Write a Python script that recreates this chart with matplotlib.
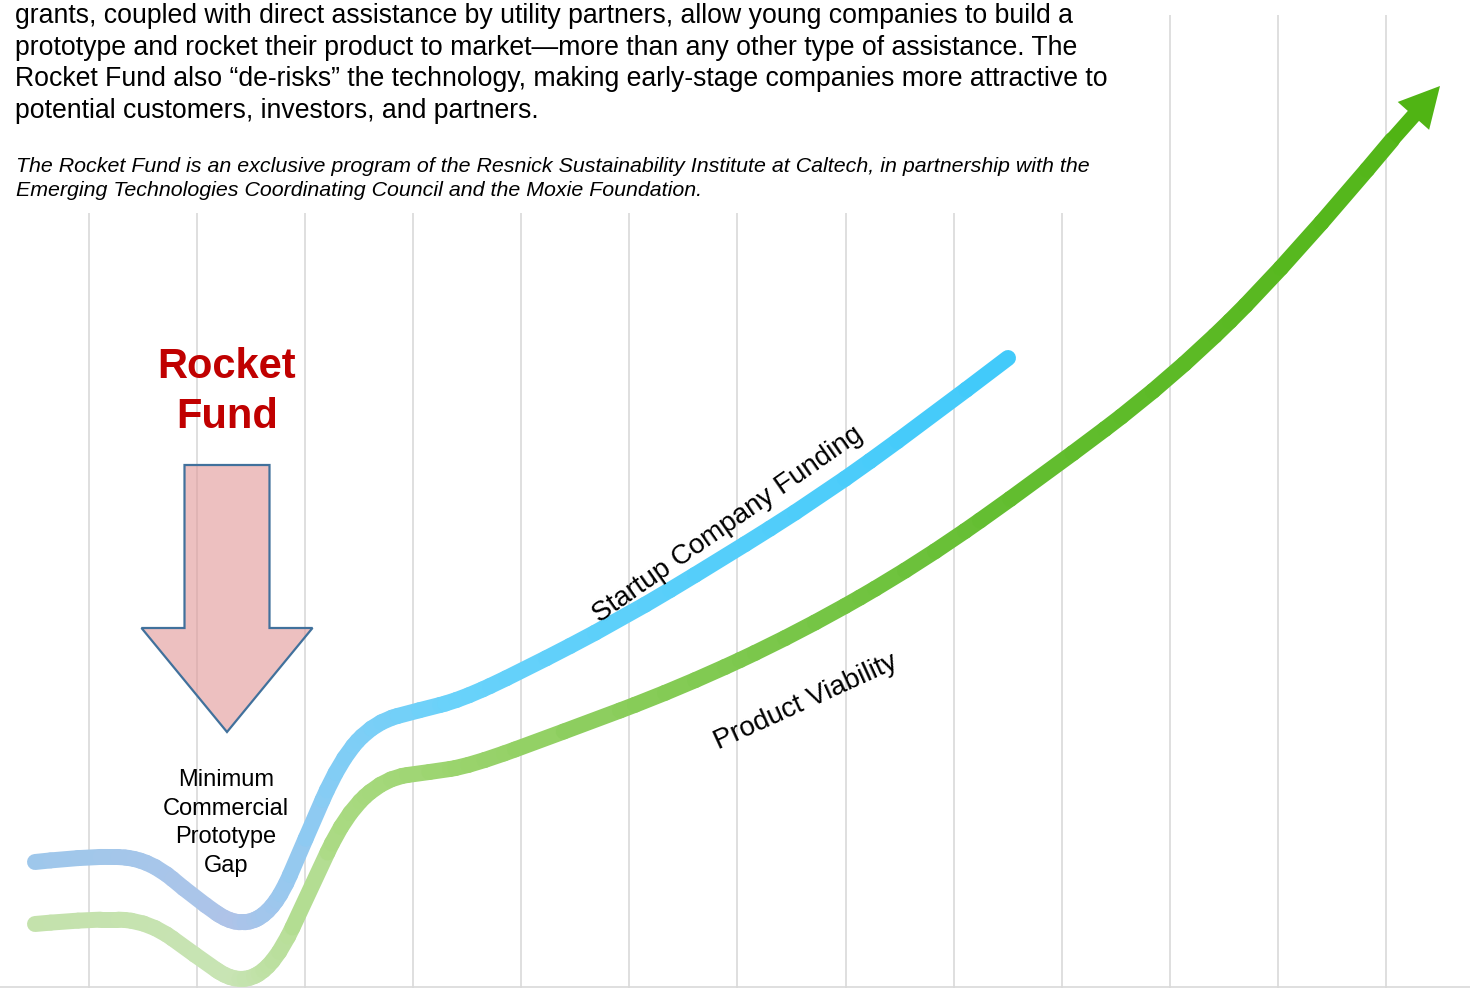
import numpy as np
import matplotlib.pyplot as plt
import matplotlib.patches as mpatches
from matplotlib.path import Path
from matplotlib.collections import LineCollection
from matplotlib.colors import LinearSegmentedColormap, Normalize

plt.rcParams['font.family'] = ['Liberation Sans', 'DejaVu Sans']

# texte du haut
intro_lines = [
    "grants, coupled with direct assistance by utility partners, allow young companies to build a",
    "prototype and rocket their product to market\u2014more than any other type of assistance. The",
    "Rocket Fund also \u201cde-risks\u201d the technology, making early-stage companies more attractive to",
    "potential customers, investors, and partners.",
]
note_lines = [
    "The Rocket Fund is an exclusive program of the Resnick Sustainability Institute at Caltech, in partnership with the",
    "Emerging Technologies Coordinating Council and the Moxie Foundation.",
]

# points de contrôle des courbes (pixels, y vers le bas)
funding_x = [35, 100, 150, 195, 238, 275, 305, 340, 375, 420, 460, 520, 620, 720, 820, 920, 1008]
funding_y = [862, 855, 860, 898, 928, 910, 840, 760, 722, 710, 700, 672, 620, 560, 497, 425, 358]
viability_x = [35, 100, 150, 195, 238, 275, 310, 345, 385, 430, 470, 560, 680, 800, 920, 1040, 1170, 1290, 1392]
viability_y = [924, 918, 922, 955, 985, 965, 890, 815, 778, 772, 766, 733, 688, 632, 563, 478, 380, 262, 140]
arrow_tip = (1440, 86)

grid_x = [89, 197, 305, 413, 521, 629, 737, 846, 954, 1062, 1170, 1278, 1386]

blue_stops = [(0.0, '#9bc8eb'), (0.10, '#a6c6ea'), (0.16, '#afc3e8'), (0.23, '#82cdf5'),
              (0.31, '#69d2fa'), (1.0, '#1ec3fa')]
green_stops = [(0.0, '#c3e1aa'), (0.16, '#c8e4b4'), (0.23, '#aada82'),
               (0.31, '#9bd46e'), (0.68, '#64be32'), (1.0, '#50b414')]


def smooth_path(xs, ys):
    pts = list(zip(xs, ys))
    verts = [pts[0]]
    codes = [Path.MOVETO]
    for i in range(1, len(pts) - 1):
        nxt = pts[i + 1] if i == len(pts) - 2 else ((pts[i][0] + pts[i + 1][0]) / 2, (pts[i][1] + pts[i + 1][1]) / 2)
        verts += [pts[i], nxt]
        codes += [Path.CURVE3, Path.CURVE3]
    return Path(verts, codes)


def gradient_line(ax, xs, ys, stops, lw):
    cmap = LinearSegmentedColormap.from_list('g', stops)
    pts = smooth_path(xs, ys).to_polygons(closed_only=False)[0]
    segs = np.stack([pts[:-1], pts[1:]], axis=1)
    mid = (pts[:-1, 0] + pts[1:, 0]) / 2
    lc = LineCollection(segs, colors=cmap(Normalize(0, 1470)(mid)), linewidths=lw,
                        capstyle='round', joinstyle='round', zorder=3)
    ax.add_collection(lc)


fig = plt.figure(figsize=(14.7, 9.88), dpi=100)
ax = fig.add_axes([0, 0, 1, 1])
ax.set_xlim(0, 1470)
ax.set_ylim(988, 0)
ax.axis('off')

# grille verticale
ax.vlines(grid_x, 15, 988, color='#d9d9d9', lw=1.2, zorder=0)
ax.hlines(987, 0, 1470, color='#d9d9d9', lw=1.2, zorder=0)
ax.add_patch(mpatches.Rectangle((0, 0), 1120, 213, facecolor='white', edgecolor='none', zorder=1))

for i, line in enumerate(intro_lines):
    ax.text(15, 16 + i * 31.7, line, fontsize=19.2, va='center', ha='left', color='black', zorder=2)
for i, line in enumerate(note_lines):
    ax.text(16, 166 + i * 25, line, fontsize=15.4, style='italic', va='center', ha='left', zorder=2)

# courbes
gradient_line(ax, funding_x, funding_y, blue_stops, 11.5)
gradient_line(ax, viability_x, viability_y, green_stops, 11.5)
x0, y0 = viability_x[-1], viability_y[-1]
ax.add_patch(mpatches.FancyArrow(x0, y0, arrow_tip[0] - x0, arrow_tip[1] - y0, width=15,
                                 head_width=42, head_length=40, length_includes_head=True,
                                 facecolor='#50b414', edgecolor='none', zorder=4))

# flèche Rocket Fund
ax.add_patch(mpatches.FancyArrow(227, 465, 0, 267, width=85, head_width=171, head_length=104,
                                 length_includes_head=True, facecolor='#e29a9a', alpha=0.62,
                                 edgecolor='none', zorder=2))
ax.add_patch(mpatches.FancyArrow(227, 465, 0, 267, width=85, head_width=171, head_length=104,
                                 length_includes_head=True, facecolor='none',
                                 edgecolor='#41719c', lw=1.6, zorder=2))

ax.text(227, 392, "Rocket\nFund", fontsize=30, fontweight='bold', color='#c00000',
        ha='center', va='center', linespacing=1.31)
ax.text(226, 823, "Minimum\nCommercial\nPrototype\nGap", fontsize=17, ha='center', va='center',
        linespacing=1.39)
ax.text(728, 525, "Startup Company Funding", fontsize=20, rotation=35, ha='center', va='center',
        rotation_mode='anchor')
ax.text(806, 702, "Product Viability", fontsize=20, rotation=24.5, ha='center', va='center',
        rotation_mode='anchor')

fig.savefig('out.png', dpi=100)
